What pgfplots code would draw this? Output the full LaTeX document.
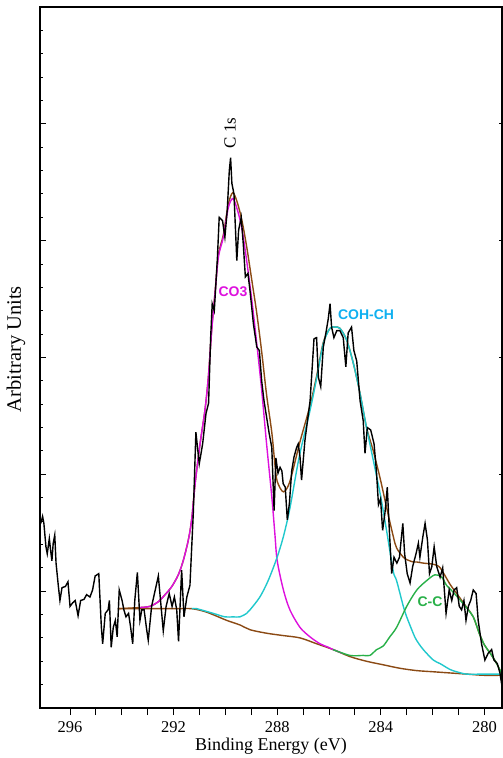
\documentclass[border=0pt]{standalone}
\usepackage{fontspec}
\setmainfont{Liberation Serif}
\newfontfamily\arial{Liberation Sans}
\usepackage{pgfplots}
\pgfplotsset{compat=1.18}
\definecolor{cbrown}{HTML}{8B4A14}
\definecolor{cmag}{HTML}{DD10DD}
\definecolor{ccyan}{HTML}{20C8CC}
\definecolor{cgreen}{HTML}{28B048}
\definecolor{lblue}{HTML}{10B0F0}
\begin{document}
\begin{tikzpicture}
\pgfplotsset{
  common/.style={scale only axis, width=462pt, height=701pt,
    xmin=279.32, xmax=297.16, ymin=0, ymax=6, x dir=reverse,
    axis line style={line width=1.2pt},
    every tick/.style={black, line width=1pt}}
}
\begin{axis}[common,
  xtick={280,284,...,296}, minor x tick num=3, xtick pos=bottom,
  tick align=outside, major tick length=7pt, minor tick length=7pt,
  ytick=\empty,
  xticklabel style={font=\fontsize{16.5}{18}\selectfont, yshift=-3pt},
  /pgf/number format/assume math mode=true]
% background
\addplot[cbrown, line width=1.4pt, smooth] coordinates {
(294.15,0.85)(293.30,0.85)(292.91,0.85)(291.95,0.85)(291.30,0.85)(290.72,0.82)
(289.95,0.75)(289.43,0.71)(289.05,0.67)(288.41,0.64)(287.77,0.62)(287.12,0.60)
(286.48,0.55)(285.84,0.50)(285.19,0.44)(284.55,0.40)(283.91,0.37)(283.26,0.34)
(282.61,0.32)(281.97,0.31)(281.33,0.30)(280.68,0.29)(280.04,0.28)(279.40,0.28)(279.32,0.28)};
% envelope
\addplot[cbrown, line width=1.4pt, smooth] coordinates {
(294.15,0.85)(293.30,0.86)(292.91,0.87)(292.59,0.91)(292.33,0.97)(292.07,1.04)
(291.82,1.14)(291.63,1.26)(291.43,1.44)(291.30,1.62)(291.17,1.92)(290.98,2.26)
(290.79,2.55)(290.66,2.83)(290.53,3.24)(290.40,3.56)(290.27,3.88)(290.08,4.05)
(289.89,4.31)(289.72,4.41)(289.56,4.34)(289.37,4.18)(289.18,3.95)(288.98,3.66)
(288.79,3.38)(288.60,3.05)(288.41,2.68)(288.21,2.36)(288.09,2.09)(288.00,1.94)
(287.76,1.85)(287.51,1.94)(287.12,2.28)(286.73,2.59)(286.47,2.85)(286.22,3.13)
(285.96,3.25)(285.77,3.26)(285.58,3.25)(285.32,3.15)(285.06,2.95)(284.80,2.69)
(284.55,2.40)(284.29,2.20)(284.03,1.97)(283.77,1.71)(283.52,1.47)(283.39,1.37)
(283.13,1.29)(283.00,1.27)(282.75,1.25)(282.62,1.25)(282.36,1.24)(281.97,1.23)
(281.71,1.20)(281.33,1.06)(281.07,0.98)(280.68,0.86)(280.43,0.78)(280.20,0.64)
(280.00,0.54)(279.78,0.47)(279.55,0.39)(279.32,0.29)};
% CO3
\addplot[cmag, line width=1.4pt, smooth] coordinates {
(293.30,0.86)(292.91,0.87)(292.59,0.91)(292.33,0.97)(292.07,1.04)(291.82,1.14)
(291.63,1.26)(291.43,1.44)(291.30,1.62)(291.17,1.92)(290.98,2.26)(290.79,2.55)
(290.66,2.83)(290.53,3.23)(290.40,3.55)(290.27,3.86)(290.08,4.03)(289.89,4.28)
(289.72,4.36)(289.56,4.28)(289.37,4.11)(289.18,3.83)(288.98,3.49)(288.79,3.12)
(288.60,2.72)(288.41,2.26)(288.21,1.81)(288.09,1.49)(288.00,1.26)(287.76,1.01)
(287.51,0.84)(287.12,0.69)(286.74,0.61)(286.35,0.55)(286.03,0.52)(285.84,0.50)(285.50,0.47)};
% COH-CH
\addplot[ccyan, line width=1.4pt, smooth] coordinates {
(291.30,0.85)(291.11,0.85)(290.47,0.81)(290.02,0.78)(289.70,0.78)(289.44,0.78)
(289.18,0.81)(289.05,0.84)(288.67,0.95)(288.35,1.09)(288.02,1.28)(287.77,1.46)
(287.51,1.71)(287.15,2.15)(286.73,2.55)(286.47,2.83)(286.22,3.12)(285.96,3.25)
(285.77,3.26)(285.58,3.25)(285.32,3.15)(285.06,2.95)(284.80,2.69)(284.55,2.40)
(284.29,2.12)(284.03,1.84)(283.77,1.51)(283.52,1.17)(283.39,1.09)(283.13,0.87)
(283.00,0.78)(282.75,0.64)(282.62,0.58)(282.36,0.50)(281.97,0.41)(281.71,0.38)
(281.33,0.33)(281.07,0.31)(280.68,0.29)(280.04,0.29)(279.40,0.29)(279.32,0.29)};
% C-C
\addplot[cgreen, line width=1.4pt, smooth] coordinates {
(285.85,0.50)(285.19,0.45)(284.68,0.45)(284.42,0.45)(284.16,0.50)(283.91,0.53)
(283.65,0.61)(283.39,0.69)(283.00,0.87)(282.61,1.01)(282.23,1.09)(281.91,1.14)
(281.65,1.12)(281.46,1.05)(281.20,0.99)(280.81,0.89)(280.43,0.78)(280.20,0.64)
(280.00,0.54)(279.78,0.47)(279.55,0.39)(279.32,0.29)};
% raw data
\addplot[black, line width=1.4pt] coordinates {
(297.13,1.58)(297.06,1.64)(297.01,1.58)(296.93,1.38)(296.88,1.32)(296.80,1.45)
(296.75,1.35)(296.70,1.26)(296.65,1.41)(296.59,1.48)(296.54,1.24)(296.45,1.04)
(296.39,0.92)(296.31,1.03)(296.18,1.04)(296.08,1.08)(296.00,0.87)(295.90,0.90)
(295.80,0.92)(295.69,0.79)(295.59,0.92)(295.46,0.93)(295.36,0.97)(295.23,0.95)
(295.13,1.01)(295.03,1.13)(294.89,1.15)(294.79,0.69)(294.74,0.55)(294.64,0.81)
(294.53,0.84)(294.48,0.92)(294.41,0.52)(294.33,0.69)(294.25,0.75)(294.18,0.61)
(294.10,1.01)(293.99,0.92)(293.92,0.84)(293.84,0.78)(293.74,0.81)(293.66,0.69)
(293.58,0.55)(293.50,0.92)(293.40,1.16)(293.30,0.75)(293.23,0.84)(293.14,0.84)
(293.04,0.67)(292.98,0.58)(292.85,0.87)(292.59,1.13)(292.40,0.66)(292.29,0.87)
(292.17,0.98)(292.06,0.87)(291.97,0.95)(291.88,0.84)(291.81,0.57)(291.69,1.18)
(291.60,0.78)(291.49,0.95)(291.37,1.05)(291.24,1.67)(291.14,2.36)(291.01,2.09)
(290.88,2.26)(290.75,2.52)(290.65,2.61)(290.57,3.17)(290.51,3.46)(290.43,3.40)
(290.31,3.85)(290.24,4.20)(290.11,4.17)(290.02,4.03)(289.93,4.26)(289.85,4.60)
(289.80,4.71)(289.75,4.49)(289.67,4.40)(289.56,3.83)(289.49,4.09)(289.39,4.20)
(289.31,3.97)(289.23,3.69)(289.13,3.72)(289.05,3.57)(288.92,3.29)(288.79,3.09)
(288.69,3.06)(288.60,2.80)(288.51,2.63)(288.41,2.49)(288.31,2.35)(288.21,2.23)
(288.12,1.69)(288.05,2.14)(287.97,2.01)(287.89,2.06)(287.82,2.03)(287.77,1.92)
(287.69,1.89)(287.61,1.61)(287.53,1.75)(287.44,2.03)(287.35,2.15)(287.25,2.23)
(287.19,2.26)(287.12,2.15)(287.06,1.95)(286.93,2.29)(286.73,2.63)(286.58,3.16)
(286.48,3.17)(286.41,2.83)(286.32,2.75)(286.22,3.09)(286.12,3.21)(286.03,3.33)
(285.96,3.46)(285.90,3.26)(285.81,3.17)(285.70,3.23)(285.58,3.23)(285.45,3.17)
(285.35,2.92)(285.26,3.21)(285.13,3.26)(285.04,3.06)(284.93,2.97)(284.80,2.63)
(284.68,2.46)(284.61,2.18)(284.52,2.40)(284.39,2.38)(284.26,2.26)(284.17,2.03)
(284.09,1.74)(284.01,1.79)(283.93,1.52)(283.84,1.67)(283.75,1.89)(283.67,1.52)
(283.58,1.15)(283.49,1.29)(283.38,1.24)(283.28,1.29)(283.15,1.58)(283.08,1.32)
(282.98,1.15)(282.87,1.07)(282.77,1.21)(282.64,1.32)(282.55,1.41)(282.49,1.29)
(282.38,1.46)(282.29,1.58)(282.20,1.44)(282.12,1.15)(282.03,1.21)(281.94,1.38)
(281.84,1.21)(281.71,1.12)(281.61,1.20)(281.48,0.81)(281.36,1.01)(281.26,0.92)
(281.17,1.01)(281.07,1.03)(280.97,0.87)(280.88,0.84)(280.79,0.92)(280.71,0.75)
(280.62,0.87)(280.53,0.92)(280.43,1.01)(280.32,0.98)(280.24,0.75)(280.11,0.55)
(279.98,0.41)(279.85,0.47)(279.72,0.50)(279.63,0.41)(279.50,0.38)(279.40,0.30)(279.33,0.20)};
\node[rotate=90, font=\fontsize{17}{19}\selectfont] at (axis cs:289.82,4.92) {C 1s};
\node[text=cmag, font=\arial\bfseries\fontsize{14}{16}\selectfont] at (axis cs:289.71,3.56) {CO3};
\node[text=lblue, font=\arial\bfseries\fontsize{14}{16}\selectfont] at (axis cs:284.57,3.37) {COH-CH};
\node[text=cgreen, font=\arial\bfseries\fontsize{14}{16}\selectfont] at (axis cs:282.10,0.91) {C-C};
\coordinate (yl) at (rel axis cs:0,0.512);
\coordinate (xl) at (rel axis cs:0.5,0);
\coordinate (sw) at (rel axis cs:0,0);
\coordinate (ne) at (rel axis cs:1,1);
\end{axis}
\begin{axis}[common, xtick=\empty, ytick={0,...,6}, minor y tick num=4,
  ytick pos=left, tick align=inside, major tick length=6.5pt, minor tick length=3pt,
  yticklabels={}]
\end{axis}
\begin{axis}[common, xtick=\empty, ytick={1,...,5},
  ytick pos=right, tick align=inside, major tick length=3pt, yticklabels={}]
\end{axis}
\node[rotate=90, font=\fontsize{20.5}{22}\selectfont] at ([xshift=-24pt]yl) {Arbitrary Units};
\node[font=\fontsize{18}{20}\selectfont] at ([yshift=-38pt]xl) {Binding Energy (eV)};
\pgfresetboundingbox
\path[use as bounding box] ([xshift=-40pt,yshift=-50pt]sw) rectangle ([xshift=0.5pt,yshift=7pt]ne);
\end{tikzpicture}
\end{document}
